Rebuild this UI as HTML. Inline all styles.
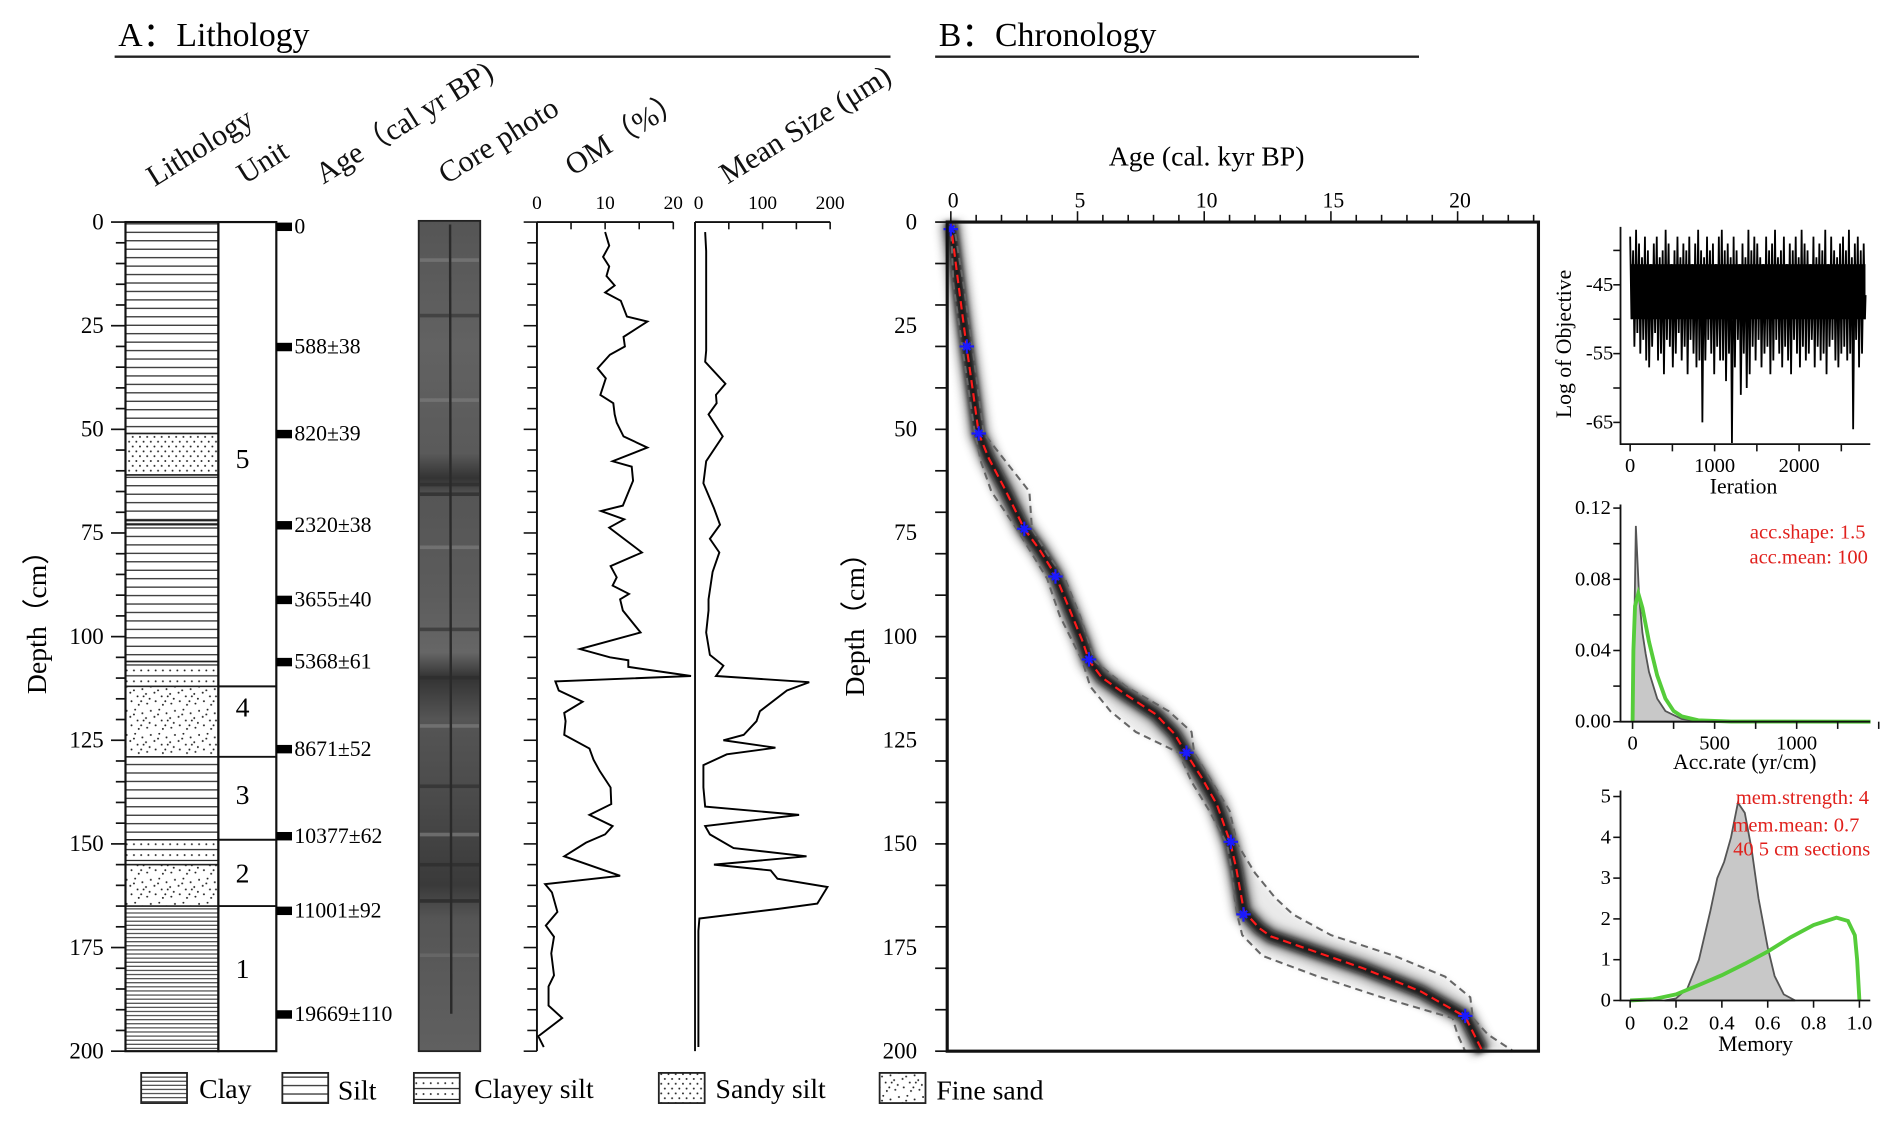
<!DOCTYPE html>
<html><head><meta charset="utf-8"><style>
html,body{margin:0;padding:0;background:#fff;}
svg{display:block;font-family:"Liberation Serif",serif;}
</style></head><body>
<svg id="fig" width="1892" height="1126" viewBox="0 0 1568 933" preserveAspectRatio="none" xmlns="http://www.w3.org/2000/svg">
<defs>
<pattern id="pSilt" patternUnits="userSpaceOnUse" width="10" height="7"><line x1="0" y1="3.5" x2="10" y2="3.5" stroke="#222" stroke-width="1"/></pattern>
<pattern id="pClay" patternUnits="userSpaceOnUse" width="10" height="3.4"><line x1="0" y1="1.7" x2="10" y2="1.7" stroke="#333" stroke-width="0.9"/></pattern>
<pattern id="pClayey" patternUnits="userSpaceOnUse" width="6" height="9"><line x1="0" y1="2" x2="6" y2="2" stroke="#222" stroke-width="1"/><circle cx="3" cy="6.5" r="0.8" fill="#222"/></pattern>
<pattern id="pSandy" patternUnits="userSpaceOnUse" width="6" height="8"><circle cx="2" cy="2" r="0.8" fill="#222"/><circle cx="5" cy="6" r="0.8" fill="#222"/></pattern>
<pattern id="pSand" patternUnits="userSpaceOnUse" width="20" height="20">
<circle cx="2" cy="3" r="0.8" fill="#222"/><circle cx="9" cy="1" r="0.8" fill="#222"/><circle cx="15" cy="4" r="0.8" fill="#222"/><circle cx="5" cy="9" r="0.8" fill="#222"/><circle cx="12" cy="8" r="0.8" fill="#222"/><circle cx="18" cy="11" r="0.8" fill="#222"/><circle cx="1" cy="15" r="0.8" fill="#222"/><circle cx="8" cy="14" r="0.8" fill="#222"/><circle cx="14" cy="17" r="0.8" fill="#222"/><circle cx="4" cy="19" r="0.8" fill="#222"/><circle cx="17" cy="1" r="0.8" fill="#222"/><circle cx="11" cy="12" r="0.8" fill="#222"/><circle cx="19" cy="17" r="0.8" fill="#222"/></pattern>
<linearGradient id="gCore" x1="0" y1="0" x2="0" y2="1">
<stop offset="0" stop-color="#555"/><stop offset="0.15" stop-color="#626262"/><stop offset="0.28" stop-color="#5a5a5a"/><stop offset="0.31" stop-color="#333"/><stop offset="0.33" stop-color="#555"/><stop offset="0.45" stop-color="#5c5c5c"/><stop offset="0.52" stop-color="#666"/><stop offset="0.55" stop-color="#333"/><stop offset="0.6" stop-color="#555"/><stop offset="0.7" stop-color="#4a4a4a"/><stop offset="0.8" stop-color="#3a3a3a"/><stop offset="0.84" stop-color="#555"/><stop offset="1" stop-color="#606060"/></linearGradient>
<filter id="blur" x="-20%" y="-20%" width="140%" height="140%"><feGaussianBlur stdDeviation="2.2"/></filter>
<filter id="blur2" x="-20%" y="-20%" width="140%" height="140%"><feGaussianBlur stdDeviation="3.5"/></filter>
</defs>

<text x="98" y="38" font-size="28">A：Lithology</text>
<line x1="95" y1="47" x2="738" y2="47" stroke="#222" stroke-width="2"/>
<text x="778" y="38" font-size="28">B：Chronology</text>
<line x1="775" y1="47" x2="1176" y2="47" stroke="#222" stroke-width="2"/>

<g font-size="25" fill="#111">
<text transform="translate(128,155) rotate(-32)">Lithology</text>
<text transform="translate(203,153) rotate(-32)">Unit</text>
<text transform="translate(268,153) rotate(-32)">Age（cal yr BP)</text>
<text transform="translate(370,153) rotate(-32)">Core photo</text>
<text transform="translate(475,146) rotate(-32)">OM（%）</text>
<text transform="translate(603,153) rotate(-32)">Mean Size (μm)</text>
</g>

<text transform="translate(38,510) rotate(-90)" font-size="23" text-anchor="middle">Depth（cm）</text>
<text transform="translate(716,512) rotate(-90)" font-size="23" text-anchor="middle">Depth（cm）</text>
<text x="1000" y="137" font-size="23" text-anchor="middle">Age (cal. kyr BP)</text>

<g id="gA"></g><g id="gB"></g><g id="gC"></g>

<text transform="translate(1302,285) rotate(-90)" font-size="18" text-anchor="middle">Log of Objective</text>
<text x="1445" y="409" font-size="18" text-anchor="middle">Ieration</text>
<text x="1446" y="637" font-size="18" text-anchor="middle">Acc.rate (yr/cm)</text>
<text x="1455" y="871" font-size="18" text-anchor="middle">Memory</text>
<g fill="#e0201c" font-size="17" text-anchor="end">
<text x="1546" y="446">acc.shape: 1.5</text>
<text x="1548" y="467">acc.mean: 100</text>
<text x="1549" y="666">mem.strength: 4</text>
<text x="1541" y="689">mem.mean: 0.7</text>
<text x="1550" y="709">40 5 cm sections</text>
</g>

<g font-size="23">
<g><rect x="117" y="889" width="38" height="25" fill="url(#pClay)" stroke="#222" stroke-width="1.5"/><text x="165" y="910">Clay</text></g>
<g><rect x="234" y="889" width="38" height="25" fill="url(#pSilt)" stroke="#222" stroke-width="1.5"/><text x="280" y="911">Silt</text></g>
<g><rect x="343" y="889" width="38" height="25" fill="url(#pClayey)" stroke="#222" stroke-width="1.5"/><text x="393" y="910">Clayey silt</text></g>
<g><rect x="546" y="889" width="38" height="25" fill="url(#pSandy)" stroke="#222" stroke-width="1.5"/><text x="593" y="910">Sandy silt</text></g>
<g><rect x="729" y="889" width="38" height="25" fill="url(#pSand)" stroke="#222" stroke-width="1.5"/><text x="776" y="911">Fine sand</text></g>
</g>
</svg>
<script>
const layerTops = [0,51,61,72,73,106,112,129,149,155,165];
const layerBots = [51,61,72,73,106,112,129,149,155,165,200];
const layerTypes = ['silt','sandy','silt','clayey','silt','clayey','sand','silt','clayey','sand','clay'];
const unitBounds = [112,129,149,165];
const unitLabels = ['5','4','3','2','1'];
const unitLabelDepths = [57,117,138,157,180];
const dateDepths = [1,30,51,73,91,106,127,148,166,191];
const dateLabels = ['0','588±38','820±39','2320±38','3655±40','5368±61','8671±52','10377±62','11001±92','19669±110'];
const depthTicks = [0,25,50,75,100,125,150,175,200];

const omDepth = [2.4,5.7,8.4,10.7,13,15.3,17,19,22.8,24,27.7,30,32,35.3,37.7,41.7,43.7,46.4,48.4,51.7,54.4,57.7,59,62.4,68.4,69.7,71.7,73.7,79.7,83,85.7,87.7,89.7,91,93.7,99,103,105,105.7,107.3,109.5,110.8,113,115.7,118.4,120.4,123.7,127,129.7,132.4,136.4,140.4,143,145.7,147.7,149.7,153,157.7,159.7,161.7,166.4,169.7,172.4,176.4,181.7,184.4,189,192,196.4,199];
const omValue = [10,10.6,9.7,10.6,10.2,11.4,10,12.3,13.2,16.2,12.7,12.9,10.7,8.9,10.1,9.3,11.2,11.4,11.7,12.7,16.2,11.1,13.9,14.1,12.6,9.4,12.8,10.6,15.4,10.8,11.7,11.1,13.5,12.2,12.6,15.2,6.3,10.7,13.4,13.4,22.6,2.7,3.2,6.7,4,4.2,4,7.7,8.3,9.2,10.8,10.9,7.7,11.1,10,7.2,4,12.2,1.2,2.2,3,1.3,2.5,2.1,2.5,1.7,1.7,3.7,0.2,1];
const msDepth = [2.4,7,19,31,33.7,39,41.7,43.7,46.4,51.7,57.7,63,69,73,76.4,79.7,84.4,91,93.7,99,104.4,107,109.5,111,113,118,120.4,123.7,125,126.8,128.4,131,136.4,141,143,145.7,147.7,151,153,155,156.4,158.4,160.4,164.4,165.7,168,171,199];
const msValue = [15,16.5,16.5,16.5,15,45,31,32,20,41,16.5,12.4,28,37,22,36,26,20,20,16.5,22,42,31,169,136,96,91,72,42,119,47,12.4,12.4,15,154,15,22,57,165,28,112,122,196,181,122,6.5,5,5];

const modelDepth = [0,3,15,30,42,51,57,64,74,79,85.2,92,101,105.8,109.8,113.8,118.7,123.5,128.2,134,140.5,149.7,155.8,166.3,170.3,172.3,175.2,180,185.6,191.7,200];
const modelAge = [0,0.05,0.3,0.62,0.9,1.1,1.5,2.1,2.9,3.5,4.13,4.59,5.19,5.46,5.95,6.86,8.08,8.83,9.29,9.9,10.5,11.03,11.26,11.57,12.17,12.63,14,16.27,18.55,20.3,20.98];
const bandDepth = [0,15,30,51,58,65,74,80,86,95,106,112,118,123,128,135,142,150,157,163,167,172,177,182,187,192,196,200];
const bandMin = [0,0.1,0.45,0.95,1.2,1.6,2.6,3.2,3.8,4.3,5.2,5.5,6.3,7.3,9.0,9.5,10.2,10.9,11.1,11.2,11.3,11.5,12.3,14.5,17.0,19.8,20.0,20.3];
const bandMax = [0.1,0.5,0.85,1.3,2.2,3.1,3.2,3.8,4.5,5.1,5.7,6.9,8.6,9.5,9.6,10.3,11.0,11.3,12.0,12.8,13.5,15.0,17.5,19.5,20.5,20.6,21.2,22.2];
const calDepth = [1.7,30,51,74,85.5,105.5,128,149.5,167,191.5];
const calAge = [0,0.63,1.1,2.9,4.13,5.45,9.3,11.05,11.55,20.3];

const objHigh = [-38,-40,-37,-39,-41,-38,-40,-42,-39,-38,-41,-40,-37,-39,-42,-40,-38,-41,-39,-40,-38,-42,-39,-37,-40,-41,-38,-40,-39,-42,-38,-37,-40,-39,-41,-38,-40,-42,-39,-41,-37,-40,-38,-39,-41,-42,-38,-40,-39,-37,-41,-40,-38,-42,-39,-40,-38,-41,-37,-39,-40,-42,-38,-41,-39,-40,-37,-42,-38,-40,-41,-39,-38,-40,-37,-41,-39,-38,-40,-39];
const objLow = [-50,-54,-52,-55,-53,-56,-57,-54,-52,-56,-55,-58,-53,-54,-57,-55,-52,-56,-54,-58,-53,-55,-57,-56,-65,-56,-53,-55,-58,-54,-56,-56,-59,-55,-68,-57,-53,-61,-55,-60,-58,-54,-56,-53,-57,-55,-54,-58,-56,-53,-55,-57,-54,-56,-58,-53,-55,-57,-54,-56,-55,-53,-57,-54,-56,-55,-58,-54,-53,-56,-57,-55,-54,-56,-55,-66,-53,-57,-55,-50];
const objTicks = [-45,-55,-65];
const iterTicks = [0,1000,2000];

const accX = [0,10,20,30,40,60,80,100,150,200,300,400,600,1450];
const accPost = [0,0.05,0.11,0.09,0.07,0.05,0.038,0.028,0.013,0.006,0.0015,0.0005,0,0];
const accPriorX = [0,5,15,35,60,100,150,200,250,300,400,600,1450];
const accPrior = [0,0.04,0.065,0.072,0.064,0.045,0.026,0.013,0.006,0.003,0.0008,0.0001,0];
const accYTicks = ['0.00','0.04','0.08','0.12'];
const accXTicks = [0,500,1000];

const memX = [0.15,0.2,0.25,0.3,0.35,0.38,0.41,0.44,0.47,0.5,0.53,0.56,0.6,0.63,0.67,0.72];
const memPost = [0,0.05,0.3,1.0,2.2,3.0,3.4,4.0,4.85,4.6,3.7,2.5,1.3,0.6,0.15,0];
const memPriorX = [0,0.1,0.2,0.3,0.4,0.5,0.6,0.7,0.8,0.9,0.95,0.98,0.99,1.0];
const memPrior = [0,0.03,0.15,0.38,0.62,0.9,1.2,1.55,1.85,2.03,1.95,1.6,1.0,0];
const memXTicks = ['0','0.2','0.4','0.6','0.8','1.0'];
const memYTicks = [0,1,2,3,4,5];

const NS='http://www.w3.org/2000/svg';
function mk(tag, attrs, parent){const e=document.createElementNS(NS,tag);for(const k in attrs)e.setAttribute(k,attrs[k]);parent.appendChild(e);return e;}
const yD = d => 184 + d*3.435;
const xOM = v => 445 + v*5.65;
const xMS = v => 576 + v*0.56;
const xA = a => 788 + a*21;
const gA=document.getElementById('gA'), gB=document.getElementById('gB'), gC=document.getElementById('gC');
let el;

const patMap={silt:'url(#pSilt)',clay:'url(#pClay)',clayey:'url(#pClayey)',sandy:'url(#pSandy)',sand:'url(#pSand)'};
layerTypes.forEach((t,i)=>{
  el=mk('rect',{x:104,y:yD(layerTops[i]),width:77,height:yD(layerBots[i])-yD(layerTops[i]),fill:patMap[t],stroke:'#222','stroke-width':1.2},gA);
  
  
});
el=mk('rect',{x:104,y:184,width:77,height:687,fill:'none',stroke:'#111','stroke-width':1.8},gA);


el=mk('rect',{x:181,y:184,width:48,height:687,fill:'none',stroke:'#111','stroke-width':1.8},gA);


unitBounds.forEach(d=>{
  el=mk('line',{x1:181,x2:229,y1:yD(d),y2:yD(d),stroke:'#111','stroke-width':1.6},gA);
  
  
});
unitLabels.forEach((u,i)=>{
  el=mk('text',{x:201,y:yD(unitLabelDepths[i])+8,'font-size':23,'text-anchor':'middle'},gA);el.textContent=u;
  
  
});
el=mk('line',{x1:104,x2:104,y1:184,y2:871,stroke:'#111','stroke-width':1.6},gA);


for(let d=0; d<=200; d+=5){
  el=mk('line',{x1:d%25===0?92:96,x2:104,y1:yD(d),y2:yD(d),stroke:'#111','stroke-width':1.4},gA);
  
  
}
depthTicks.forEach(d=>{
  el=mk('text',{x:86,y:yD(d)+6,'font-size':19,'text-anchor':'end'},gA);el.textContent=d;
  
  
});
dateDepths.forEach((d,i)=>{
  el=mk('rect',{x:229,y:yD(d)-3,width:13,height:7,fill:'#000'},gA);
  
  
  el=mk('text',{x:244,y:yD(d)+6,'font-size':18},gA);el.textContent=dateLabels[i];
  
  
});
el=mk('rect',{x:347,y:183,width:51,height:688,fill:'url(#gCore)',stroke:'#222','stroke-width':1.5},gA);


[[214,'#777'],[260,'#3c3c3c'],[330,'#777'],[400,'#2e2e2e'],[408,'#2e2e2e'],[452,'#777'],[520,'#3a3a3a'],[560,'#2e2e2e'],[600,'#777'],[650,'#333'],[690,'#777'],[715,'#2e2e2e'],[745,'#2a2a2a'],[790,'#6a6a6a']].forEach(s=>{
  el=mk('rect',{x:348,y:s[0],width:49,height:3,fill:s[1],opacity:0.8},gA);
  
  
});
el=mk('line',{x1:373,x2:374,y1:186,y2:840,stroke:'#2a2a2a','stroke-width':2},gA);



function depthAxis(x,name){
  el=mk('line',{x1:x,x2:x,y1:184,y2:871,stroke:'#111','stroke-width':1.6},gA);
  
  
  for(let d=0; d<=200; d+=5){
    el=mk('line',{x1:x-(d%25===0?11:8),x2:x,y1:yD(d),y2:yD(d),stroke:'#111','stroke-width':1.3},gA);
    
    
  }
}
depthAxis(445,'om-depth-axis');
el=mk('line',{x1:445,x2:558,y1:184,y2:184,stroke:'#111','stroke-width':1.6},gA);


[0,5,10,15,20].forEach(v=>{
  el=mk('line',{x1:xOM(v),x2:xOM(v),y1:184,y2:190,stroke:'#111','stroke-width':1.3},gA);
  
  
  if(v%10===0){el=mk('text',{x:xOM(v),y:173,'font-size':16,'text-anchor':'middle'},gA);el.textContent=v;
  
  }
});
el=mk('polyline',{points:omDepth.map((d,i)=>xOM(omValue[i])+','+yD(d)).join(' '),fill:'none',stroke:'#000','stroke-width':1.6},gA);


el=mk('line',{x1:576,x2:576,y1:184,y2:871,stroke:'#111','stroke-width':1.6},gA);


el=mk('line',{x1:576,x2:688,y1:184,y2:184,stroke:'#111','stroke-width':1.6},gA);


[0,50,100,150,200].forEach(v=>{
  el=mk('line',{x1:xMS(v),x2:xMS(v),y1:184,y2:190,stroke:'#111','stroke-width':1.3},gA);
  
  
  if(v%100===0){el=mk('text',{x:xMS(v)+(v===0?3:0),y:173,'font-size':16,'text-anchor':'middle'},gA);el.textContent=v;
  
  }
});
el=mk('polyline',{points:msDepth.map((d,i)=>xMS(msValue[i])+','+yD(d)).join(' '),fill:'none',stroke:'#000','stroke-width':1.6},gA);



const bandPts = bandDepth.map((d,i)=>xA(bandMin[i])+','+yD(d)).concat(bandDepth.slice().reverse().map((d,j)=>{const i=bandDepth.length-1-j;return xA(bandMax[i])+','+yD(d);}));
el=mk('polygon',{points:bandPts.join(' '),fill:'#e2e2e2',opacity:0.7,filter:'url(#blur)'},gB);


el=mk('polyline',{points:modelDepth.map((d,i)=>xA(modelAge[i])+','+yD(d)).join(' '),fill:'none',stroke:'#555','stroke-width':18,opacity:0.6,filter:'url(#blur2)'},gB);


el=mk('polyline',{points:modelDepth.map((d,i)=>xA(modelAge[i])+','+yD(d)).join(' '),fill:'none',stroke:'#0a0a0a','stroke-width':10,opacity:0.9,filter:'url(#blur)'},gB);


el=mk('polyline',{points:bandDepth.map((d,i)=>xA(bandMin[i])+','+yD(d)).join(' '),fill:'none',stroke:'#666','stroke-width':1.7,'stroke-dasharray':'6 4'},gB);


el=mk('polyline',{points:bandDepth.map((d,i)=>xA(bandMax[i])+','+yD(d)).join(' '),fill:'none',stroke:'#666','stroke-width':1.7,'stroke-dasharray':'6 4'},gB);


el=mk('polyline',{points:modelDepth.map((d,i)=>xA(modelAge[i])+','+yD(d)).join(' '),fill:'none',stroke:'#ff1a1a','stroke-width':1.8,'stroke-dasharray':'7 4'},gB);


calDepth.forEach((d,i)=>{
  const x=xA(calAge[i]), y=yD(d);
  el=mk('path',{d:`M${x-6},${y}L${x+6},${y}M${x},${y-6}L${x},${y+6}M${x-3},${y-3}L${x+3},${y+3}M${x-3},${y+3}L${x+3},${y-3}`,stroke:'#1a1aff','stroke-width':1.8},gB);
  
  
});
el=mk('rect',{x:785,y:184,width:490,height:687,fill:'none',stroke:'#111','stroke-width':2.6},gB);


for(let a=0;a<=23;a++){
  el=mk('line',{x1:xA(a),x2:xA(a),y1:184,y2:a%5===0?175:178,stroke:'#111','stroke-width':1.3},gB);
  
  
}
[0,5,10,15,20].forEach(a=>{
  el=mk('text',{x:xA(a)+2,y:172,'font-size':18,'text-anchor':'middle'},gB);el.textContent=a;
  
  
});
for(let d=0; d<=200; d+=10){
  el=mk('line',{x1:775,x2:785,y1:yD(d),y2:yD(d),stroke:'#111','stroke-width':1.4},gB);
  
  
}
depthTicks.forEach(d=>{
  el=mk('text',{x:760,y:yD(d)+6,'font-size':19,'text-anchor':'end'},gB);el.textContent=d;
  
  
});

const xIt = i => 1351 + i*0.07;
const yObj = v => 236 + (-45 - v)*5.7;
el=mk('polyline',{points:[1343,188,1343,368,1550,368].join(' '),fill:'none',stroke:'#111','stroke-width':1.5},gC);


let tr=[];
const nb=objHigh.length, span=2800/nb;
objHigh.forEach((h,i)=>{const x=xIt(i*span);tr.push(x+','+yObj(h));tr.push((x+span*0.03)+','+yObj(objLow[i]));tr.push((x+span*0.045)+','+yObj((h+objLow[i])/2-2));});
el=mk('polyline',{points:tr.join(' '),fill:'none',stroke:'#000','stroke-width':1.5},gC);


el=mk('rect',{x:1352,y:yObj(-42),width:194,height:yObj(-50)-yObj(-42),fill:'#000'},gC);


[-40,-45,-50,-55,-60,-65].forEach(v=>{
  el=mk('line',{x1:1337,x2:1343,y1:yObj(v),y2:yObj(v),stroke:'#111','stroke-width':1.3},gC);
  
  
});
objTicks.forEach(v=>{
  el=mk('text',{x:1337,y:yObj(v)+5,'font-size':17,'text-anchor':'end'},gC);el.textContent=v;
  
  
});
for(let i=0;i<=2500;i+=500){
  el=mk('line',{x1:xIt(i),x2:xIt(i),y1:368,y2:374,stroke:'#111','stroke-width':1.3},gC);
  
  
}
iterTicks.forEach(v=>{
  el=mk('text',{x:xIt(v),y:391,'font-size':17,'text-anchor':'middle'},gC);el.textContent=v;
  
  
});
const xAcc = v => 1353 + v*0.136;
const yAcc = v => 598 - v*1475;
el=mk('polygon',{points:accX.map((x,i)=>xAcc(x)+','+yAcc(accPost[i])).join(' ')+' '+xAcc(1450)+',598 '+xAcc(0)+',598',fill:'#c8c8c8',stroke:'#555','stroke-width':1.5},gC);


el=mk('polyline',{points:accPriorX.map((x,i)=>xAcc(x)+','+yAcc(accPrior[i])).join(' '),fill:'none',stroke:'#55cc3a','stroke-width':3.2},gC);


el=mk('polyline',{points:[1343,418,1343,598,1550,598].join(' '),fill:'none',stroke:'#111','stroke-width':1.5},gC);


for(let v=0;v<=0.121;v+=0.02){
  el=mk('line',{x1:1337,x2:1343,y1:yAcc(v),y2:yAcc(v),stroke:'#111','stroke-width':1.3},gC);
  
  
}
accYTicks.forEach(t=>{
  el=mk('text',{x:1335,y:yAcc(parseFloat(t))+5,'font-size':17,'text-anchor':'end'},gC);el.textContent=t;
  
  
});
for(let v=0;v<=1500;v+=250){
  el=mk('line',{x1:xAcc(v),x2:xAcc(v),y1:598,y2:604,stroke:'#111','stroke-width':1.3},gC);
  
  
}
accXTicks.forEach(v=>{
  el=mk('text',{x:xAcc(v),y:621,'font-size':17,'text-anchor':'middle'},gC);el.textContent=v;
  
  
});
const xMem = v => 1351 + v*190;
const yMem = v => 829 - v*33.8;
el=mk('polygon',{points:memX.map((x,i)=>xMem(x)+','+yMem(memPost[i])).join(' '),fill:'#c8c8c8',stroke:'#555','stroke-width':1.5},gC);


el=mk('polyline',{points:memPriorX.map((x,i)=>xMem(x)+','+yMem(memPrior[i])).join(' '),fill:'none',stroke:'#55cc3a','stroke-width':3.2},gC);


el=mk('polyline',{points:[1343,655,1343,829,1550,829].join(' '),fill:'none',stroke:'#111','stroke-width':1.5},gC);


memYTicks.forEach(v=>{
  el=mk('line',{x1:1337,x2:1343,y1:yMem(v),y2:yMem(v),stroke:'#111','stroke-width':1.3},gC);
  
  
  el=mk('text',{x:1335,y:yMem(v)+5,'font-size':17,'text-anchor':'end'},gC);el.textContent=v;
  
  
});
memXTicks.forEach(t=>{
  const v=parseFloat(t);
  el=mk('line',{x1:xMem(v),x2:xMem(v),y1:829,y2:835,stroke:'#111','stroke-width':1.3},gC);
  
  
  el=mk('text',{x:xMem(v),y:853,'font-size':17,'text-anchor':'middle'},gC);el.textContent=t;
  
  
});
</script>
</body></html>
